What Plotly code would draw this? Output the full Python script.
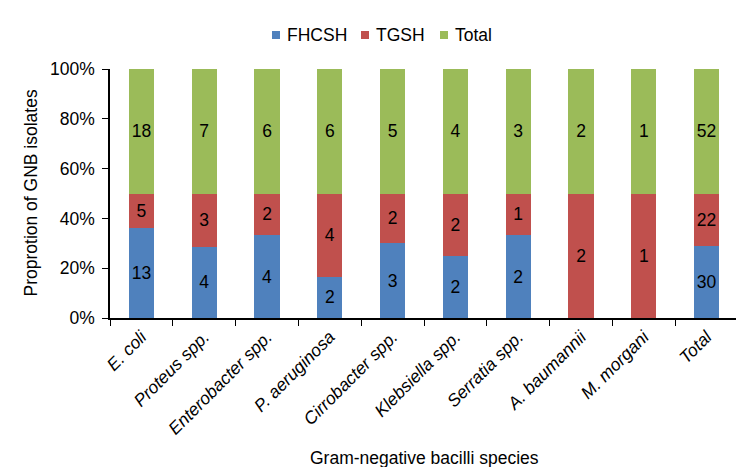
import plotly.graph_objects as go

categories = ["E. coli", "Proteus spp.", "Enterobacter spp.", "P. aeruginosa",
              "Cirrobacter spp.", "Klebsiella spp.", "Serratia spp.",
              "A. baumannii", "M. morgani", "Total"]
fhcsh = [13, 4, 4, 2, 3, 2, 2, 0, 0, 30]
tgsh = [5, 3, 2, 4, 2, 2, 1, 2, 1, 22]
total = [18, 7, 6, 6, 5, 4, 3, 2, 1, 52]
y_ticks = [0, 20, 40, 60, 80, 100]

series_names = ["FHCSH", "TGSH", "Total"]
series_values = [fhcsh, tgsh, total]
series_colors = ["#4F81BD", "#C0504D", "#9BBB59"]

cat_labels = [f"<i>{c}</i>" for c in categories]
FONT = "Liberation Sans, Arial, sans-serif"
FS = 17.5

W, H = 744, 467
L, R, T, B = 102, 14, 61, 157
PW, PH = W - L - R, H - T - B


def px_x(px):
    return (px - L) / PW


def px_y(py):
    return (H - B - py) / PH


fig = go.Figure()
for name, vals, color in zip(series_names, series_values, series_colors):
    fig.add_trace(go.Bar(
        x=cat_labels, y=vals, name=name, showlegend=False,
        marker=dict(color=color, line=dict(width=0)),
        text=[str(v) if v else "" for v in vals],
        textposition="inside", insidetextanchor="middle",
        textfont=dict(color="black", size=FS, family=FONT),
        textangle=0, constraintext="none",
        hoverinfo="skip",
    ))

# Legend (Excel-style: small square swatch, tight gap, centered on the image)
legend_sq_left = [264, 353, 432]
legend_y = 27
shapes = []
annotations = []
for name, color, sx in zip(series_names, series_colors, legend_sq_left):
    shapes.append(dict(type="rect", xref="paper", yref="paper",
                       x0=px_x(sx), x1=px_x(sx + 8),
                       y0=px_y(legend_y + 4), y1=px_y(legend_y - 4),
                       fillcolor=color, line=dict(width=0)))
    annotations.append(dict(text=name, xref="paper", yref="paper",
                            x=px_x(sx + 13), y=px_y(legend_y),
                            xanchor="left", yanchor="middle", showarrow=False,
                            font=dict(size=FS)))

annotations += [
    dict(text="Gram-negative bacilli species", xref="paper", yref="paper",
         x=0.5, y=px_y(450), xanchor="center", yanchor="middle",
         showarrow=False, font=dict(size=FS)),
    dict(text="Proprotion of GNB isolates", xref="paper", yref="paper",
         x=px_x(22), y=0.5, xanchor="center", yanchor="middle", textangle=-90,
         showarrow=False, font=dict(size=FS)),
]

fig.update_layout(
    barmode="stack", barnorm="percent", bargap=0.6,
    width=W, height=H,
    margin=dict(l=L, r=R, t=T, b=B, autoexpand=False),
    paper_bgcolor="white", plot_bgcolor="white",
    font=dict(family=FONT, size=FS, color="black"),
    showlegend=False,
    shapes=shapes,
    annotations=annotations,
)
fig.update_xaxes(
    tickangle=-45, tickson="boundaries", ticks="outside", ticklen=6,
    tickcolor="black", showline=True, linecolor="black", linewidth=1.5,
    tickfont=dict(size=FS, family=FONT), showgrid=False, automargin=False,
)
fig.update_yaxes(
    range=[0, 100], tickvals=y_ticks, ticktext=[f"{v}%" for v in y_ticks],
    ticks="outside", ticklen=6, tickcolor="black", showline=True,
    linecolor="black", linewidth=1.5, showgrid=False, zeroline=False,
    tickfont=dict(size=FS, family=FONT), automargin=False, ticklabelstandoff=4,
)

fig.write_html("out.html")
